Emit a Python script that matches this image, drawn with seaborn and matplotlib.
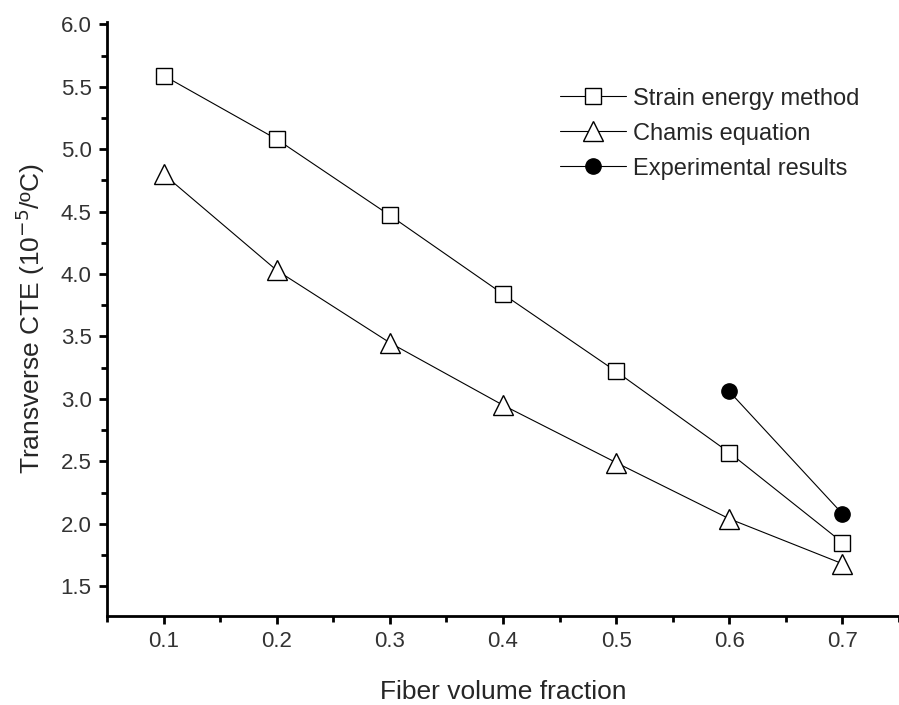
import numpy as np
import pandas as pd
import seaborn as sns
import matplotlib.pyplot as plt
from matplotlib.ticker import MultipleLocator

# values
fraction = [0.1, 0.2, 0.3, 0.4, 0.5, 0.6, 0.7]
strain_energy = [5.59, 5.08, 4.47, 3.84, 3.22, 2.57, 1.85]
chamis = [4.80, 4.03, 3.45, 2.95, 2.49, 2.04, 1.68]
exp_fraction = [0.6, 0.7]
experimental = [3.06, 2.08]

sns.set_style("ticks")
plt.rcParams['font.family'] = ['Liberation Sans', 'DejaVu Sans']

fig = plt.figure(figsize=(8.99, 7.05), dpi=100)
ax = fig.add_axes([0.119, 0.126, 0.881, 0.843])

series = [
    (fraction, strain_energy, 'Strain energy method', 's', 'white', 12),
    (fraction, chamis, 'Chamis equation', '^', 'white', 15),
    (exp_fraction, experimental, 'Experimental results', 'o', 'black', 11),
]
for x, y, name, mk, fc, ms in series:
    df = pd.DataFrame({'x': x, 'y': y})
    sns.lineplot(data=df, x='x', y='y', ax=ax, color='black', lw=0.8,
                 marker=mk, markersize=ms, markerfacecolor=fc,
                 markeredgecolor='black', markeredgewidth=1.0, label=name)

ax.set_xlim(0.05, 0.75)
ax.set_ylim(1.26, 6.02)
ax.xaxis.set_major_locator(MultipleLocator(0.1))
ax.xaxis.set_minor_locator(MultipleLocator(0.05))
ax.yaxis.set_major_locator(MultipleLocator(0.5))
ax.yaxis.set_minor_locator(MultipleLocator(0.25))
ax.set_xticks(fraction)
ax.set_xticklabels([f'{v:.1f}' for v in fraction])
ax.yaxis.set_major_formatter(plt.FuncFormatter(lambda v, p: f'{v:.1f}'))

sns.despine(ax=ax)
for s in ['left', 'bottom']:
    ax.spines[s].set_linewidth(2.0)
    ax.spines[s].set_color('black')
ax.tick_params(which='major', length=6, width=2, color='black',
               labelsize=16, labelcolor='#333333', direction='out', pad=5)
ax.tick_params(which='minor', length=4, width=2, color='black', direction='out')

ax.set_xlabel('Fiber volume fraction', fontsize=19, labelpad=20)
ax.set_ylabel('Transverse CTE (10$^{-5}$/ºC)', fontsize=19, labelpad=10)

leg = ax.legend(loc='upper left', bbox_to_anchor=(0.545, 0.925), frameon=False,
                fontsize=17, handlelength=2.8, handletextpad=0.3,
                labelspacing=0.55)

fig.savefig('out.png', dpi=100)
